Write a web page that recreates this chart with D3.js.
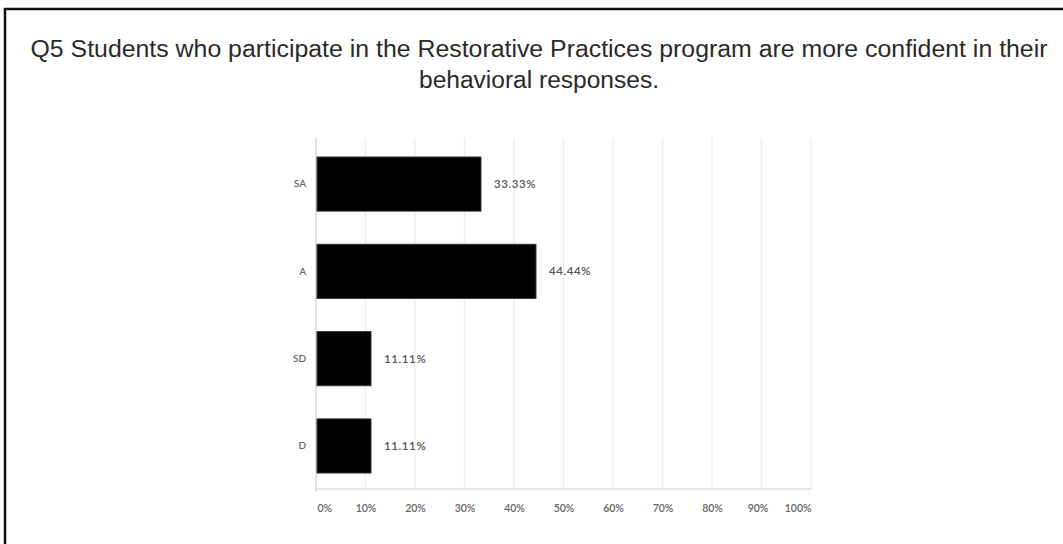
<!DOCTYPE html>
<html>
<head>
<meta charset="utf-8">
<script src="https://cdn.jsdelivr.net/npm/d3@7"></script>
<style>
  html, body { margin: 0; padding: 0; background: #fff; }
  svg { display: block; }
</style>
</head>
<body>
<svg id="chart" width="1063" height="544"></svg>
<script>
// Survey responses for Q5
const categories = ["SA", "A", "SD", "D"];
const percentages = [33.33, 44.44, 11.11, 11.11];
const tickValues = [0, 10, 20, 30, 40, 50, 60, 70, 80, 90, 100];
const tickLabels = ["0%", "10%", "20%", "30%", "40%", "50%", "60%", "70%", "80%", "90%", "100%"];
const titleLines = [
  "Q5 Students who participate in the Restorative Practices program are more confident in their",
  "behavioral responses."
];

const svg = d3.select("#chart");

// Frame (top and left edges visible)
svg.append("rect")
  .attr("x", 5).attr("y", 9)
  .attr("width", 1070).attr("height", 550)
  .attr("fill", "#fff")
  .attr("stroke", "#111")
  .attr("stroke-width", 2.5);

// Title
const titleWidths = [1017, 240];
const title = svg.append("text")
  .attr("text-anchor", "middle")
  .attr("font-family", "'Liberation Sans', Arial, sans-serif")
  .attr("font-size", 23.5)
  .attr("fill", "#2a2a2a");
titleLines.forEach((line, i) => {
  title.append("tspan")
    .attr("x", 539)
    .attr("y", 57 + i * 31)
    .attr("textLength", titleWidths[i])
    .attr("lengthAdjust", "spacingAndGlyphs")
    .text(line);
});

const plotTop = 138, plotBottom = 489;

const x = d3.scaleLinear().domain([0, 100]).range([316, 811]);
const y = d3.scaleBand()
  .domain(categories)
  .range([150, 480])
  .paddingInner(0.38)
  .paddingOuter(0.08);

// Vertical gridlines
svg.append("g")
  .selectAll("line")
  .data(tickValues.slice(1))
  .join("line")
  .attr("x1", d => x(d)).attr("x2", d => x(d))
  .attr("y1", plotTop).attr("y2", plotBottom)
  .attr("stroke", "#efefef")
  .attr("stroke-width", 1.5);

// Axis baselines
svg.append("line")
  .attr("x1", x(0)).attr("x2", x(0))
  .attr("y1", plotTop).attr("y2", plotBottom + 3)
  .attr("stroke", "#d8d8d8").attr("stroke-width", 1.5);
svg.append("line")
  .attr("x1", x(0)).attr("x2", x(100))
  .attr("y1", plotBottom).attr("y2", plotBottom)
  .attr("stroke", "#dddddd").attr("stroke-width", 1.5);

// Bottom axis labels
const xAxis = d3.axisBottom(x)
  .tickValues(tickValues)
  .tickFormat((d, i) => tickLabels[i])
  .tickSize(0)
  .tickPadding(16);
const gx = svg.append("g")
  .attr("transform", `translate(0,${plotBottom})`)
  .call(xAxis);
gx.select(".domain").remove();
gx.selectAll("text")
  .attr("font-family", "Lato, 'Open Sans', sans-serif")
  .attr("font-size", 10.5)
  .attr("font-weight", 600)
  .attr("fill", "#666")
  .attr("text-anchor", d => d === 0 ? "start" : d === 100 ? "end" : "middle")
  .attr("dx", d => d === 0 ? "1" : d === 90 ? "-4" : 0);

// Category axis
const yAxis = d3.axisLeft(y).tickSize(0).tickPadding(10);
const gy = svg.append("g")
  .attr("transform", `translate(${x(0)},0)`)
  .call(yAxis);
gy.select(".domain").remove();
gy.selectAll("text")
  .attr("font-family", "Lato, 'Open Sans', sans-serif")
  .attr("font-size", 10)
  .attr("font-weight", 600)
  .attr("fill", "#666");

// Bars
const rows = categories.map((c, i) => ({ cat: c, value: percentages[i] }));
svg.append("g")
  .selectAll("rect")
  .data(rows)
  .join("rect")
  .attr("x", x(0) + 1)
  .attr("y", d => y(d.cat))
  .attr("width", d => x(d.value) - x(0) - 1)
  .attr("height", y.bandwidth())
  .attr("fill", "#000")
  .attr("stroke", "#333")
  .attr("stroke-width", 1);

// Value labels
svg.append("g")
  .selectAll("text")
  .data(rows)
  .join("text")
  .attr("x", d => x(d.value) + 13)
  .attr("y", d => y(d.cat) + y.bandwidth() / 2)
  .attr("dy", "0.35em")
  .attr("font-family", "Lato, 'Open Sans', sans-serif")
  .attr("font-size", 11.5)
  .attr("font-weight", 600)
  .attr("letter-spacing", 0.6)
  .attr("fill", "#555")
  .text(d => d.value.toFixed(2) + "%");
</script>
</body>
</html>
